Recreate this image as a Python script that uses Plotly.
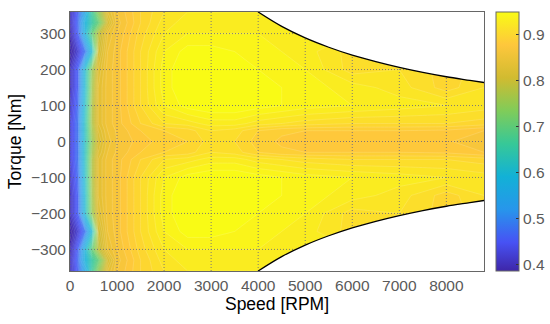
import plotly.graph_objects as go

speeds = [0, 170, 320, 470, 600, 800, 1000, 1500, 2000, 2500, 3000, 3500, 4000, 4500, 5000, 6000, 7000, 8000, 8800]
torques = [-360, -330, -300, -250, -200, -150, -100, -50, -30, 0, 30, 50, 100, 150, 200, 250, 300, 330, 360]

efficiency = [
    [0.40, 0.46, 0.55, 0.66, 0.74, 0.83, 0.860, 0.890, 0.910, 0.920, 0.920, 0.920, 0.920, 0.915, 0.915, 0.910, 0.905, 0.905, 0.900],
    [0.40, 0.47, 0.58, 0.65, 0.70, 0.81, 0.855, 0.890, 0.915, 0.925, 0.925, 0.925, 0.925, 0.920, 0.920, 0.915, 0.910, 0.905, 0.900],
    [0.39, 0.46, 0.58, 0.70, 0.78, 0.84, 0.860, 0.895, 0.920, 0.930, 0.930, 0.930, 0.930, 0.925, 0.925, 0.920, 0.915, 0.910, 0.905],
    [0.37, 0.42, 0.48, 0.60, 0.80, 0.85, 0.865, 0.900, 0.930, 0.945, 0.945, 0.940, 0.935, 0.930, 0.925, 0.905, 0.915, 0.910, 0.905],
    [0.40, 0.46, 0.60, 0.75, 0.82, 0.855, 0.865, 0.900, 0.935, 0.950, 0.950, 0.945, 0.940, 0.935, 0.930, 0.905, 0.910, 0.895, 0.905],
    [0.40, 0.46, 0.60, 0.76, 0.83, 0.855, 0.865, 0.900, 0.935, 0.950, 0.950, 0.950, 0.945, 0.940, 0.935, 0.925, 0.915, 0.895, 0.910],
    [0.41, 0.47, 0.61, 0.77, 0.83, 0.855, 0.865, 0.900, 0.930, 0.945, 0.950, 0.950, 0.945, 0.940, 0.935, 0.930, 0.925, 0.920, 0.915],
    [0.42, 0.48, 0.62, 0.77, 0.83, 0.855, 0.865, 0.890, 0.910, 0.915, 0.925, 0.925, 0.915, 0.910, 0.905, 0.900, 0.900, 0.900, 0.895],
    [0.42, 0.48, 0.62, 0.76, 0.82, 0.850, 0.862, 0.880, 0.890, 0.895, 0.910, 0.905, 0.890, 0.882, 0.880, 0.880, 0.880, 0.878, 0.870],
    [0.42, 0.48, 0.62, 0.75, 0.81, 0.845, 0.860, 0.875, 0.885, 0.890, 0.905, 0.900, 0.885, 0.878, 0.876, 0.875, 0.875, 0.872, 0.860],
    [0.42, 0.48, 0.62, 0.76, 0.82, 0.850, 0.862, 0.880, 0.890, 0.895, 0.910, 0.905, 0.890, 0.882, 0.880, 0.880, 0.880, 0.878, 0.870],
    [0.42, 0.48, 0.62, 0.77, 0.83, 0.855, 0.865, 0.890, 0.910, 0.915, 0.925, 0.925, 0.915, 0.910, 0.905, 0.900, 0.900, 0.900, 0.895],
    [0.41, 0.47, 0.61, 0.77, 0.83, 0.855, 0.865, 0.900, 0.930, 0.945, 0.950, 0.950, 0.945, 0.940, 0.935, 0.930, 0.925, 0.920, 0.915],
    [0.40, 0.46, 0.60, 0.76, 0.83, 0.855, 0.865, 0.900, 0.935, 0.950, 0.950, 0.950, 0.945, 0.940, 0.935, 0.925, 0.915, 0.895, 0.910],
    [0.40, 0.46, 0.60, 0.75, 0.82, 0.855, 0.865, 0.900, 0.935, 0.950, 0.950, 0.945, 0.940, 0.935, 0.930, 0.905, 0.910, 0.895, 0.905],
    [0.37, 0.42, 0.48, 0.60, 0.80, 0.85, 0.865, 0.900, 0.930, 0.945, 0.945, 0.940, 0.935, 0.930, 0.925, 0.905, 0.915, 0.910, 0.905],
    [0.39, 0.46, 0.58, 0.70, 0.78, 0.84, 0.860, 0.895, 0.920, 0.930, 0.930, 0.930, 0.930, 0.925, 0.925, 0.920, 0.915, 0.910, 0.905],
    [0.40, 0.47, 0.58, 0.65, 0.70, 0.81, 0.855, 0.890, 0.915, 0.925, 0.925, 0.925, 0.925, 0.920, 0.920, 0.915, 0.910, 0.905, 0.900],
    [0.40, 0.46, 0.55, 0.66, 0.74, 0.83, 0.860, 0.890, 0.910, 0.920, 0.920, 0.920, 0.920, 0.915, 0.915, 0.910, 0.905, 0.905, 0.900],
]

# Max-torque envelope
env_speed = [4000, 4500, 5000, 5500, 6000, 6500, 7000, 7500, 8000, 8500, 8800]
env_torque = [360, 320, 288, 262, 240, 222, 206, 192, 180, 170, 164]

x_ticks = [0, 1000, 2000, 3000, 4000, 5000, 6000, 7000, 8000]
y_ticks = [-300, -200, -100, 0, 100, 200, 300]
cbar_ticks = [0.4, 0.5, 0.6, 0.7, 0.8, 0.9]

x_range = [0, 8800]
y_range = [-360, 360]
z_range = [0.385, 0.95]

parula = [
    [0.0, '#3e26a8'], [0.111, '#4752f4'], [0.238, '#2796eb'], [0.365, '#12b1d6'],
    [0.492, '#37c897'], [0.619, '#80cc59'], [0.746, '#d1bb30'], [0.873, '#fec73c'],
    [1.0, '#f9fb15'],
]

FONT = "Liberation Sans, Arial, sans-serif"
TICK_COLOR = "#5a5a5a"

fig = go.Figure()

fig.add_trace(go.Contour(
    x=speeds, y=torques, z=efficiency,
    colorscale=parula, zmin=z_range[0], zmax=z_range[1],
    contours=dict(coloring="fill", start=0.38, end=0.95, size=0.01),
    line=dict(width=0.5, color="rgba(255,255,255,0.3)", smoothing=0),
    showscale=False,
    hoverinfo="skip",
))

# smooth colour bar
fig.add_trace(go.Scatter(
    x=[None, None], y=[None, None], mode="markers",
    marker=dict(
        color=z_range, colorscale=parula, cmin=z_range[0], cmax=z_range[1], showscale=True,
        colorbar=dict(
            xref="container", x=496 / 550, xanchor="left", xpad=0,
            y=0.5, yanchor="middle", ypad=0,
            len=1, thickness=23, outlinewidth=1, outlinecolor="#666666",
            tickvals=cbar_ticks, ticks="inside", ticklen=3, tickcolor="#333333",
            tickfont=dict(family=FONT, size=15.5, color=TICK_COLOR),
        ),
    ),
    hoverinfo="skip", showlegend=False,
))

# dotted grid lines drawn over the map
gx, gy = [], []
for xv in x_ticks:
    gx += [xv, xv, None]
    gy += [y_range[0], y_range[1], None]
for yv in y_ticks:
    gx += [x_range[0], x_range[1], None]
    gy += [yv, yv, None]
fig.add_trace(go.Scatter(
    x=gx, y=gy, mode="lines",
    line=dict(color="rgba(95,95,135,0.8)", width=1, dash="1px,2px"),
    hoverinfo="skip", showlegend=False,
))

# white regions beyond the torque envelope (top and bottom)
for sign in (1, -1):
    fig.add_trace(go.Scatter(
        x=env_speed, y=[sign * y_range[1]] * len(env_speed), mode="lines",
        line=dict(width=0, color="white"), hoverinfo="skip", showlegend=False,
    ))
    fig.add_trace(go.Scatter(
        x=env_speed, y=[sign * t for t in env_torque], mode="lines",
        line=dict(color="black", width=1.3, shape="spline"),
        fill="tonexty", fillcolor="white", hoverinfo="skip", showlegend=False,
    ))

axis_common = dict(
    showgrid=False, zeroline=False, showline=True, mirror=True,
    linecolor="#666666", linewidth=1, ticks="", automargin=False,
    tickfont=dict(family=FONT, size=15.5, color=TICK_COLOR),
)

fig.update_layout(
    width=550, height=324,
    margin=dict(l=70, r=66, t=12, b=53),
    paper_bgcolor="white", plot_bgcolor="white",
    showlegend=False,
    xaxis=dict(range=x_range, tickvals=x_ticks,
               title=dict(text="Speed [RPM]", font=dict(family=FONT, size=17.5, color="black"), standoff=4),
               **axis_common),
    yaxis=dict(range=y_range, tickvals=y_ticks,
               title=dict(text="Torque [Nm]", font=dict(family=FONT, size=17.5, color="black"), standoff=4),
               **axis_common),
)

fig.write_html("out.html", config={"displayModeBar": False},
               post_script="document.body.style.margin='0';")
